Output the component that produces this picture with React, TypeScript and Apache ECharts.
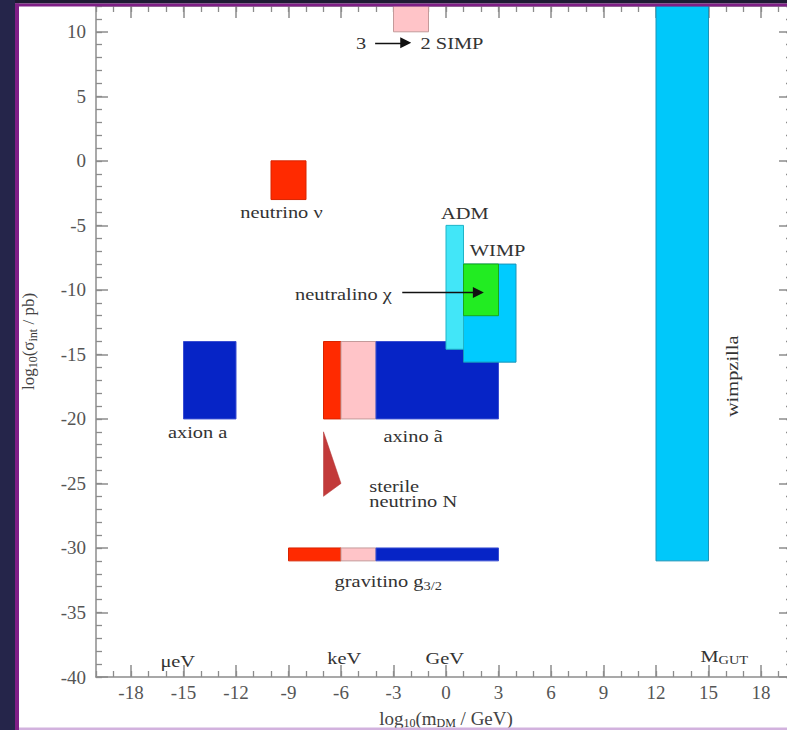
import { useEffect, useRef } from 'react';
import * as echarts from 'echarts';

// ---- Data: dark-matter candidates, log10(mass / GeV) vs log10(sigma_int / pb) ----
const boxNames = [
  '3→2 SIMP', 'neutrino ν', 'axion a',
  'axino ã (hot)', 'axino ã (warm)', 'axino ã (cold)',
  'gravitino (hot)', 'gravitino (warm)', 'gravitino (cold)',
  'wimpzilla', 'WIMP', 'ADM', 'neutralino χ',
];
const boxKinds = ['warm', 'hot', 'cold', 'hot', 'warm', 'cold', 'hot', 'warm', 'cold', 'wimpzilla', 'wimp', 'adm', 'neutralino'];
const boxMassLo = [-3, -10, -15, -7, -6, -4, -9, -6, -4, 12, 1, 0, 1];
const boxMassHi = [-1, -8, -12, -6, -4, 3, -6, -4, 3, 15, 4, 1, 3];
const boxSigmaLo = [10, -3, -20, -20, -20, -20, -31, -31, -31, -31, -15.6, -14.6, -12];
const boxSigmaHi = [12, 0, -14, -14, -14, -14, -30, -30, -30, 12, -8, -5, -8];

// sterile neutrino N (triangle)
const sterileMass = [-7, -6, -7];
const sterileSigma = [-21, -25, -26];

// arrows (neutralino pointer, 3 -> 2)
const arrowMassFrom = [-2.5, -4.05];
const arrowMassTo = [1.85, -2.3];
const arrowSigma = [-10.2, 9.15];

// annotations
const labelTexts = [
  '3', '2 SIMP', 'neutrino ν', 'ADM', 'WIMP', 'neutralino χ', 'axion a', 'axino ã',
  'sterile\nneutrino N', 'gravitino g{sub|3/2}', 'wimpzilla', 'μeV', 'keV', 'GeV', 'M{sub|GUT}',
];
const labelMass = [-4.85, 0.34, -9.4, 1.07, 2.95, -5.86, -14.19, -1.88, -4.38, -3.3, 16.33, -15.33, -5.81, -0.07, 15.9];
const labelSigma = [9.15, 9.15, -4.0, -4.05, -6.94, -10.36, -21.05, -21.36, -25.8, -32.6, -16.7, -38.8, -38.5, -38.55, -38.35];

// axis ticks
const xMin = -20, xMax = 20, yMin = -40, yMax = 12;
const xTickLabels = [-18, -15, -12, -9, -6, -3, 0, 3, 6, 9, 12, 15, 18];
const yTickLabels = [-40, -35, -30, -25, -20, -15, -10, -5, 0, 5, 10];
const xMinorTicks = Array.from({ length: xMax - xMin + 1 }, (_, i) => xMin + i);
const yMinorTicks = Array.from({ length: yMax - yMin + 1 }, (_, i) => yMin + i);

// ---- Styles ----
const FONT = "'Liberation Serif', 'Times New Roman', serif";
const kindStyle: Record<string, { fill: string; stroke: string }> = {
  hot: { fill: '#ff2a00', stroke: '#d82400' },
  warm: { fill: '#ffc4c8', stroke: '#c49a9a' },
  cold: { fill: '#0624c6', stroke: '#3a4ed2' },
  wimpzilla: { fill: '#00c8fa', stroke: '#1a94b8' },
  wimp: { fill: '#00cbff', stroke: '#1a94b8' },
  adm: { fill: '#42e6f8', stroke: '#20b4c8' },
  neutralino: { fill: '#22ec22', stroke: '#1aa81a' },
};
const labelAlign: Record<string, string> = { 'sterile\nneutrino N': 'left' };
const labelRotate: Record<string, number> = { wimpzilla: Math.PI / 2 };
const AXIS_COLOR = '#8c8c8c';
const subRich = { sub: { fontSize: 12, fontFamily: FONT, fill: '#333', color: '#333', padding: [9, 0, 0, 0] } };

function axisPair(dim: 'x' | 'y', position: string, showLabel: boolean, majorLen: number, minorLen: number, extra: any = {}) {
  const isX = dim === 'x';
  const majors = isX ? xTickLabels : yTickLabels;
  const minors = isX ? xMinorTicks : yMinorTicks;
  const base = { type: 'value', min: isX ? xMin : yMin, max: isX ? xMax : yMax, position, splitLine: { show: false } };
  return [
    {
      ...base,
      axisLine: { show: true, onZero: false, lineStyle: { color: AXIS_COLOR, width: 1.5 } },
      axisTick: { show: true, inside: true, length: majorLen, customValues: majors, lineStyle: { color: AXIS_COLOR, width: 1.5 } },
      axisLabel: {
        show: showLabel, customValues: majors, fontFamily: FONT, fontSize: 19, color: '#555',
        margin: isX ? 6 : 10,
      },
      ...extra,
    },
    {
      ...base,
      axisLine: { show: false, onZero: false },
      axisTick: { show: true, inside: true, length: minorLen, customValues: minors, lineStyle: { color: AXIS_COLOR, width: 1.3 } },
      axisLabel: { show: false },
    },
  ];
}

export default function App() {
  const ref = useRef<HTMLDivElement>(null);
  useEffect(() => {
    if (!ref.current) return;
    const chart = echarts.init(ref.current, null, { renderer: 'svg' });

    const option: any = {
      animation: false,
      backgroundColor: '#ffffff',
      grid: { left: 96, right: -9, top: 6, bottom: 53, outerBoundsMode: 'none', containLabel: false },
      xAxis: [
        ...axisPair('x', 'bottom', true, 12, 6, {
          name: 'log{sub|10}(m{sub|DM} / GeV)',
          nameLocation: 'middle',
          nameGap: 31,
          nameTextStyle: { fontFamily: FONT, fontSize: 19, color: '#444', rich: subRich },
        }),
        ...axisPair('x', 'top', false, 12, 6),
      ],
      yAxis: [
        ...axisPair('y', 'left', true, 12, 6, {
          name: 'log{sub|10}(σ{sub|int} / pb)',
          nameLocation: 'middle',
          nameGap: 57,
          nameTextStyle: { fontFamily: FONT, fontSize: 17, color: '#444', rich: subRich },
        }),
        ...axisPair('y', 'right', false, 17, 10),
      ],
      series: [
        {
          type: 'custom',
          name: 'candidates',
          coordinateSystem: 'cartesian2d',
          xAxisIndex: 0,
          yAxisIndex: 0,
          silent: true,
          data: boxNames.map((_, i) => [boxMassLo[i], boxMassHi[i], boxSigmaLo[i], boxSigmaHi[i], i]),
          renderItem: (_p: any, api: any) => {
            const i = api.value(4);
            const st = kindStyle[boxKinds[i]];
            const a = api.coord([api.value(0), api.value(3)]);
            const b = api.coord([api.value(1), api.value(2)]);
            return {
              type: 'rect',
              shape: { x: a[0], y: a[1], width: b[0] - a[0], height: b[1] - a[1] },
              style: { fill: st.fill, stroke: st.stroke, lineWidth: 1 },
            };
          },
        },
        {
          type: 'custom',
          name: 'sterile neutrino N',
          coordinateSystem: 'cartesian2d',
          silent: true,
          data: [[sterileMass[0], sterileSigma[0]]],
          renderItem: (_p: any, api: any) => ({
            type: 'polygon',
            shape: { points: sterileMass.map((m, i) => api.coord([m, sterileSigma[i]])) },
            style: { fill: '#c23a3a', stroke: '#b03030', lineWidth: 0.5 },
          }),
        },
        {
          type: 'lines',
          coordinateSystem: 'cartesian2d',
          silent: true,
          symbol: ['none', 'triangle'],
          symbolSize: [7, 11],
          lineStyle: { color: '#111', width: 1.3, opacity: 1 },
          data: arrowMassFrom.map((m, i) => ({ coords: [[m, arrowSigma[i]], [arrowMassTo[i], arrowSigma[i]]] })),
          z: 4,
        },
        {
          type: 'custom',
          name: 'labels',
          coordinateSystem: 'cartesian2d',
          silent: true,
          z: 5,
          data: labelTexts.map((_, i) => [labelMass[i], labelSigma[i], i]),
          renderItem: (_p: any, api: any) => {
            const i = api.value(2);
            const t = labelTexts[i];
            const p = api.coord([api.value(0), api.value(1)]);
            return {
              type: 'text',
              x: p[0],
              y: p[1],
              rotation: labelRotate[t] || 0,
              scaleX: 1.2,
              style: {
                text: t,
                fill: '#333',
                fontFamily: FONT,
                fontSize: 17,
                lineHeight: 15,
                align: labelAlign[t] || 'center',
                verticalAlign: 'middle',
                rich: subRich,
              },
            };
          },
        },
      ],
      graphic: [
        { type: 'rect', z: 100, silent: true, shape: { x: 0, y: 0, width: 787, height: 3.5 }, style: { fill: '#1e1b33' } },
        { type: 'rect', z: 100, silent: true, shape: { x: 0, y: 0, width: 15, height: 730 }, style: { fill: '#25254a' } },
        { type: 'rect', z: 101, silent: true, shape: { x: 15, y: 3.5, width: 772, height: 3 }, style: { fill: '#7f1f86' } },
        { type: 'rect', z: 101, silent: true, shape: { x: 15, y: 3.5, width: 4, height: 727 }, style: { fill: '#7f1f86' } },
        { type: 'rect', z: 101, silent: true, shape: { x: 19, y: 727.5, width: 768, height: 2.5 }, style: { fill: '#d2b2de' } },
      ],
    };
    chart.setOption(option);
    return () => chart.dispose();
  }, []);
  return <div ref={ref} style={{ position: 'fixed', left: 0, top: 0, width: 787, height: 730 }} />;
}
